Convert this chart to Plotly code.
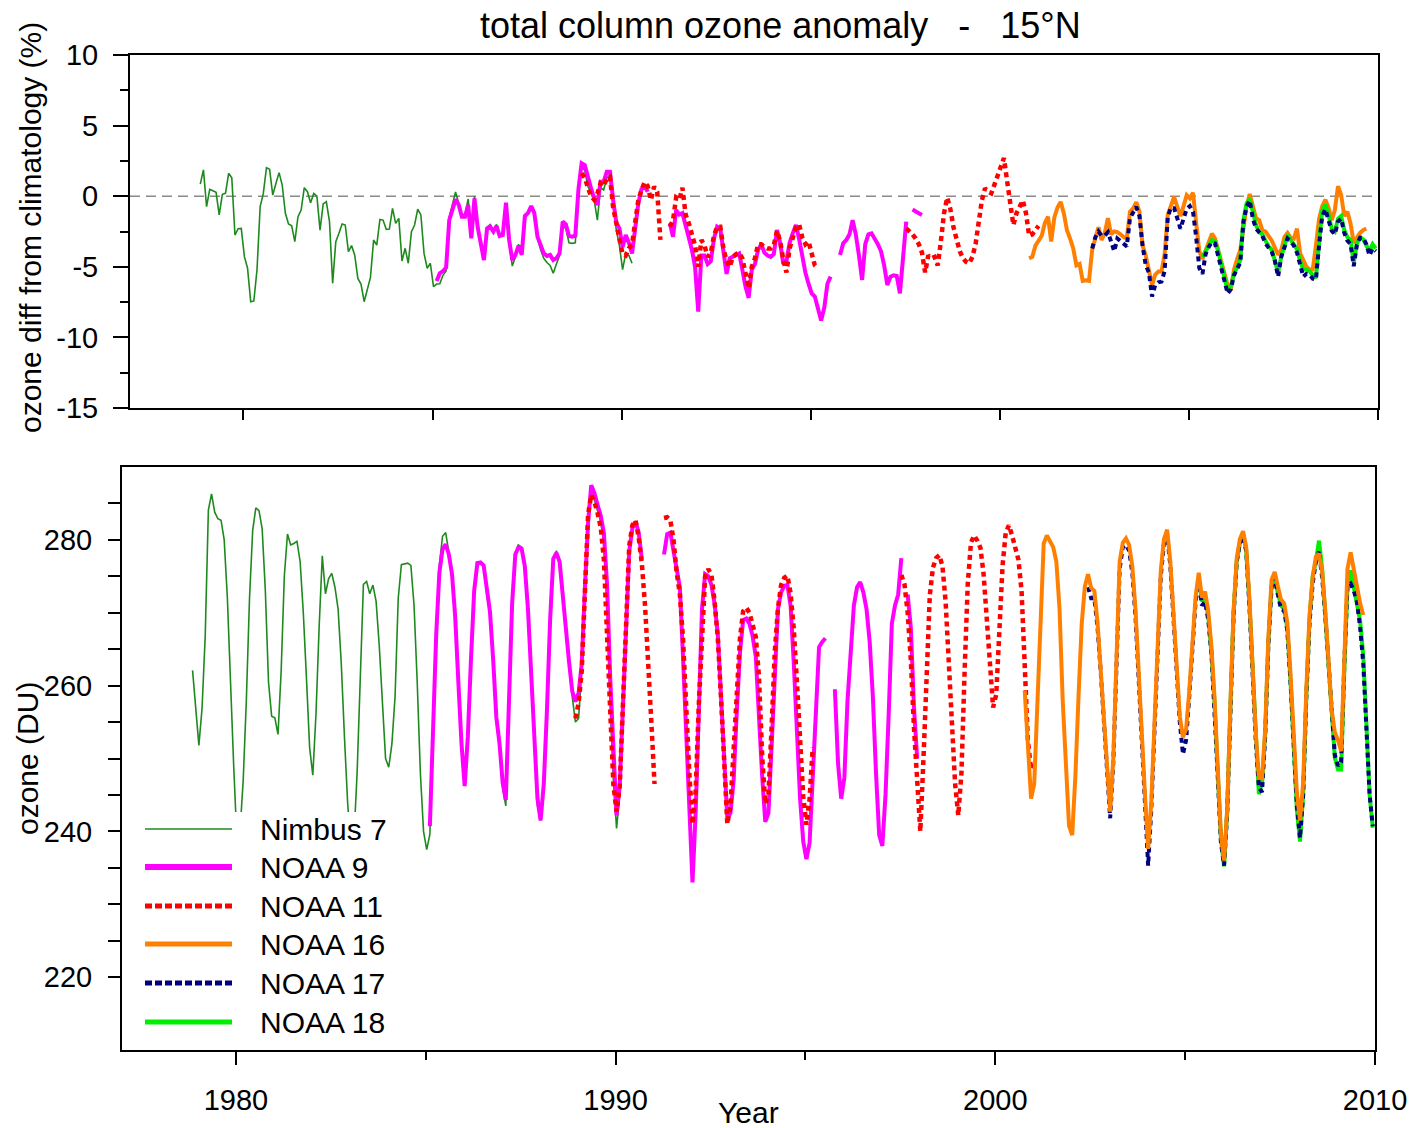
import plotly.graph_objects as go

W, H = 1410, 1128

# ---------------- data (monthly values) ----------------
# anomaly (%) and total ozone (DU); None = missing month
nimbus7_start = (1978, 11)
nimbus7_anom = [
    0.86, 1.86,
    -0.74, 0.49, 0.39, 0.28, -1.33, 0.13, 0.2, 1.62, 1.31, -2.75, -2.3, -2.28,
    -4.28, -5.1, -7.47, -7.42, -5.2, -0.74, 0.2, 2.02, 1.9, 0.08, 0.9, 1.67,
    0.79, -1.21, -1.97, -2.1, -3.22, -1.45, -0.98, 0.6, 0.32, -0.46, 0.2, 0.0,
    -2.4, -0.55, -0.39, -1.8, -6.17, -3.22, -2.63, -1.97, -2.04, -3.93, -3.5, -4.16,
    -5.82, -6.22, -7.47, -6.53, -5.75, -3.1, -3.46, -1.64, -1.69, -2.35, -2.33, -0.86,
    -1.92, -1.57, -4.59, -3.69, -4.75, -2.51, -2.04, -0.91, -1.33, -4.05, -5.1, -4.75,
    -6.4, -6.22, -6.2, -5.6, -5.3, -1.5, -0.6, 0.3, -0.5, -1.3, -1.3, -0.2,
    -2.8, 0.0, -2.0, -3.2, -4.4, -2.2, -2.0, -2.4, -2.0, -2.7, -2.6, -0.5,
    -3.2, -4.95, -4.3, -3.4, -4.1, -1.3, -1.1, -0.8, -1.3, -3.0, -3.8, -4.4,
    -4.7, -4.9, -5.46, -4.8, -4.2, -2.1, -2.3, -3.3, -3.34, -3.3, 0.2, 2.2,
    1.8, 0.7, 0.2, -0.3, -1.69, 0.6, 0.44, 1.3, 1.5, -0.6, -2.4, -3.5,
    -5.2, -4.05, -4.2, -4.75,
]
nimbus7_du = [
    262.1, 256.9,
    251.8, 256.9, 266.8, 284.1, 286.3, 283.8, 282.9, 282.7, 280, 272, 259, 249,
    239, 240, 247, 258, 272, 281.3, 284.4, 284, 281.5, 273, 260.5, 255.8,
    255.6, 253.3, 262, 275, 280.8, 279.3, 279.5, 279.8, 277, 270, 261, 251.5,
    247.7, 256, 268, 277.8, 272.6, 274.7, 275.4, 273.5, 270.5, 263, 253, 244,
    238, 239, 248, 261, 273.9, 274.3, 272.6, 273.8, 271.6, 265.5, 257.5, 250,
    248.8, 252, 258.5, 272, 276.6, 276.7, 276.8, 276.5, 271, 260.5, 248, 240,
    237.5, 239.6, 254, 267.5, 276.5, 280.5, 281, 278.5, 275.5, 269, 260, 251.5,
    247, 253.5, 264, 273.5, 277, 277, 276.5, 272.5, 270, 263, 255, 251.5,
    246, 243.5, 257, 271, 278, 279.3, 279, 276, 270, 261, 251.5, 243.5,
    241.5, 246.5, 256.5, 269, 277.5, 278.5, 277, 272, 268, 262.5, 258.5, 255,
    255.5, 262, 273.5, 282.5, 286, 285.5, 284, 282.5, 279.5, 271, 257, 247,
    240.4, 245, 256, 268,
]

noaa9_start = (1985, 2)
noaa9_anom = [
    -6.0, -5.46, -5.3, -5.06, -1.69, -1.0, -0.22, -0.6, -1.45, -1.45, -0.62,
    -2.98, -0.15, -2.16, -3.3, -4.52, -2.28, -2.16, -2.51, -2.1, -2.82, -2.75, -0.46,
    -3.1, -4.52, -4.16, -3.5, -4.16, -1.4, -1.2, -0.7, -1.2, -2.87, -3.57, -4.05,
    -4.23, -4.16, -4.52, -4.4, -4.05, -1.8, -1.99, -2.82, -2.87, -2.8, 0.5, 2.33,
    2.2, 1.3, 0.56, -0.15, -0.62, 1.03, 1.03, 1.74, 1.74, -0.27, -1.87, -2.28,
    -3.6, -2.75, -3.3, -4.05, -2.28, -0.5, 0.5, 0.68, 0.32, None, None, None,
    None, None, None, -1.92, -2.87, -0.98, -1.3, -1.2, -2.0, -3.0, -3.8, -5.0,
    -8.18, -4.2, -4.2, -4.8, -4.6, -3.0, -2.16, -2.3, -4.0, -5.5, -4.4, -4.3,
    -4.2, -4.05, -5.2, -6.4, -7.2, -5.2, -4.8, -3.8, -3.4, -4.0, -4.2, -4.3,
    -4.1, -2.4, -3.3, -4.8, -4.6, -3.3, -2.63, -2.04, -3.0, -4.2, -5.4, -6.2,
    -6.88, -7.1, -7.9, -8.8, -7.9, -6.2, -5.7, None, None, -4.16, -3.34, -3.1,
    -2.7, -1.69, -2.7, -4.2, -5.93, -3.4, -2.7, -2.63, -3.0, -3.4, -3.9, -4.9,
    -6.29, -5.7, -5.6, -5.65, -6.88, -4.3, -1.8, None, -0.95, -1.05, -1.2, -1.33,
]
noaa9_du = [
    240.7, 253.5, 267, 275.5, 278.7, 279.4, 278, 275.3, 269.5, 260.5, 252,
    246.2, 253, 263.7, 273, 276.8, 276.9, 276.5, 273, 270.1, 263.6, 255.7, 252.1,
    246.7, 244.3, 257.4, 271.3, 278, 279, 278.8, 276.4, 270.5, 261.6, 252.2, 244.5,
    241.5, 246.5, 256.6, 269, 277.4, 278.2, 277, 272, 268.2, 263.2, 259.2, 257.8,
    259, 263, 273.4, 282.4, 287.5, 286.4, 284.8, 283.3, 280.9, 273.9, 261, 250,
    242.2, 246.2, 257.5, 269, 278.4, 281.6, 282.5, 281, 277.3, None, None, None,
    None, None, None, 278, 280.8, 281, 278.5, 275.8, 273.5, 264, 253.5, 243.8,
    233, 242.5, 256, 270.5, 275.3, 275, 273.8, 271.2, 267, 259, 249.5, 241.8,
    242.5, 247, 256.5, 264.5, 269, 269.2, 268.5, 266.8, 264, 255.2, 247.7, 241.3,
    242.5, 251.7, 261.7, 270.5, 272.8, 273.7, 273.8, 271, 263.2, 253.3, 244.5, 238.6,
    236.2, 238.4, 246.6, 256.8, 265.3, 266, 266.5, None, None, 259.5, 249.3, 244.5,
    247.4, 258, 264.5, 271, 273.5, 274.2, 272.8, 270.5, 266, 258.5, 248, 239.5,
    238, 245, 256, 268.5, 271, 272.5, 277.5, None, 272.5, 268, 257, 250,
]

noaa11a_start = (1988, 12)
noaa11a_anom = [
    1.62,
    1.3, 0.6, 0.0, -0.25, 0.2, 0.9, 0.7, 1.27, 1.38, -0.8, -2.0, -2.9,
    -4.1, -4.2, -3.7, -3.4, -2.0, -0.27, 0.44, 1.0, 0.7, -0.27, 0.68, 0.3,
    -3.1, None, None, -2.16, -1.7, -0.1, -0.27, 0.6, -1.3, -1.9, -2.6, -3.5,
    -5.0, -3.1, -3.5, -4.3, -4.0, -2.8, -2.16, -2.16, -3.7, -4.6, -5.0, -4.3,
    -4.1, -4.0, -4.4, -5.6, -6.52, -5.0, -4.4, -3.4, -3.4, -3.6, -3.7, -3.7,
    -3.45, -2.45, -3.2, -4.5, -5.4, -3.7, -2.8, -2.2, -2.0, -2.9, -3.4, -3.2,
    -4.05, -4.9, -5.1,
]
noaa11a_du = [
    255.5,
    257.6, 262, 275, 283.5, 286.2, 285.2, 283.7, 281.7, 277.3, 268.3, 256.5, 246.4,
    242.7, 246.2, 257, 269.8, 279.2, 282, 282.7, 280.3, 276.7, 271, 264, 255,
    246.5, None, None, 283, 283.1, 282.7, 280, 275.5, 272.6, 266.5, 256.5, 248,
    241, 245.5, 257.5, 268, 275, 276, 275.2, 271.5, 266.5, 258.5, 249.5, 241,
    243.5, 250.5, 259, 266.5, 270.2, 270.7, 270, 268.6, 266.7, 261.3, 250.5, 243.8,
    245, 254.3, 264.6, 270.6, 273.8, 274.8, 275.1, 272.7, 267.8, 260.6, 252, 244.8,
    240.9, 244.4, 251.5,
]

noaa11b_start = (1997, 7)
noaa11b_anom = [
    -2.28, -2.45, -2.7, -3.0, -3.4, -4.0,
    -5.4, -4.2, -4.4, -4.3, -4.9, -3.2, -1.2, -0.1, -0.9, -2.2, -3.1, -3.9,
    -4.4, -4.65, -4.75, -4.3, -3.4, -1.8, -0.3, 0.56, 0.32, 0.2, 0.8, 1.5,
    2.0, 2.7, 1.1, -0.7, -2.04, -1.2, -0.8, -0.3, -1.2, -2.8, -2.7, -2.4,
    -2.1,
]
noaa11b_du = [
    275.2, 273.9, 270, 263.5, 254.2, 247,
    240, 250, 263.5, 272.4, 276.2, 277.5, 277.9, 276.4, 271.5, 263, 253.5, 246.5,
    242.2, 248, 262, 274, 279.6, 280.6, 279.9, 278.9, 275.3, 269.3, 262.3, 257,
    258.8, 267.4, 276.5, 281, 282, 280.6, 278.8, 277.3, 273, 262.5, 252.5, 248.5,
    249.5,
]

noaa16_start = (2000, 10)
noaa16_anom = [
    -4.4, -4.3, -3.5,
    -3.1, -2.8, -1.9, -1.45, -3.2, -1.5, -0.8, -0.4, -1.2, -2.4, -3.0, -3.7,
    -4.9, -4.8, -6.0, -5.95, -6.0, -3.8, -3.0, -2.2, -3.1, -2.6, -1.55, -2.7,
    -2.5, -2.55, -2.7, -2.9, -3.0, -1.1, -0.87, -0.42, -1.1, -3.5, -4.2, -5.2,
    -6.3, -5.56, -5.34, -5.34, -4.1, -1.3, -0.6, -0.05, -0.74, -1.42, -0.7, 0.08,
    -0.15, 0.25, -1.9, -3.9, -4.45, -3.8, -3.1, -2.65, -3.0, -3.8, -4.6, -5.5,
    -6.3, -6.6, -5.2, -4.45, -3.8, -2.3, -0.7, 0.15, -0.8, -1.57, -1.69, -2.4,
    -2.5, -2.85, -3.15, -3.65, -4.15, -3.8, -2.9, -2.6, -2.95, -3.0, -2.3, -4.05,
    -4.52, -5.0, -5.2, -5.2, -3.5, -1.6, -0.7, -0.25, -0.8, -1.7, -1.0, 0.7,
    0.1, -1.4, -1.1, -1.95, -3.3, -2.9, -2.6, -2.4, -2.28,
]
noaa16_du = [
    259.3, 252.5, 244.5,
    246.5, 256.5, 268.5, 279.5, 280.6, 279.7, 279, 277, 270.5, 258, 248.5, 240.8,
    239.5, 247.5, 258.5, 268.4, 273.6, 275.3, 273.4, 273, 268.7, 262.6, 256.4, 249.6,
    242.7, 250.1, 264.5, 277, 279.6, 280.2, 279.3, 276.4, 270.5, 261.3, 252.2, 245,
    237.6, 244, 254.7, 267, 275.8, 280.1, 281.4, 277.1, 270.3, 261.8, 255.8, 252.9,
    254, 259.2, 265.4, 272.2, 275.5, 272.1, 272.9, 270.2, 265.4, 258.2, 248.7, 239.5,
    236, 243.2, 257.3, 270.2, 277.5, 280.1, 281.2, 279, 272, 262.6, 253.5, 247.4,
    247.3, 254, 266.5, 274.5, 275.6, 273.6, 271.8, 271.3, 268.6, 261.6, 253.4, 245.3,
    241.5, 246.7, 259.5, 269.6, 274.8, 277.7, 278.1, 275.6, 270.3, 263.2, 256.7, 253.6,
    252.5, 251, 264.8, 276, 278.3, 275.7, 273.2, 271.3, 269.7,
]

noaa17_start = (2002, 6)
noaa17_anom = [
    -3.7, -2.9, -2.5, -2.8, -2.8, -2.55, -3.2,
    -3.9, -3.0, -3.15, -3.37, -3.55, -1.57, -1.15, -0.75, -1.4, -3.5, -4.9, -5.4,
    -7.1, -6.3, -6.1, -6.05, -5.3, -1.45, -0.8, -0.85, -1.55, -2.3, -1.6, -0.9,
    -0.7, -1.1, -2.9, -5.1, -5.5, -4.1, -3.6, -3.25, -3.35, -4.3, -5.3, -6.0,
    -6.9, -6.6, -5.6, -5.15, -4.7, -1.8, -0.74, -0.3, -1.6, -2.3, -2.6, -2.8,
    -3.35, -3.7, -3.95, -4.6, -5.7, -4.3, -3.65, -3.0, -3.2, -3.5, -4.0, -4.9,
    -5.7, -5.5, -5.55, -5.85, -5.9, -3.5, -1.4, -0.93, -1.6, -2.45, -2.7, -1.8,
    -1.6, -2.6, -3.15, -3.4, -4.95, -3.45, -2.95, -2.95, -3.4, -4.2, -3.7, -3.9,
]
noaa17_du = [
    273.5, 272, 272, 268, 262, 255.5, 248.5,
    241.8, 249.5, 263.5, 276, 279, 279.3, 278.5, 275.5, 269.5, 260.5, 251, 243.5,
    235.3, 243, 254, 266.5, 275, 279.5, 280.7, 276.5, 269.5, 261, 255, 250.6,
    252.5, 258.5, 264.5, 271.5, 274.5, 271, 271.5, 269, 264.5, 257, 247.5, 238.5,
    235.3, 242.5, 256.5, 269.5, 277, 279.6, 280.5, 278.5, 271, 261.5, 252.5, 246,
    245.4, 253, 265.5, 273.5, 274.8, 272.5, 270.5, 270.3, 267.5, 260.5, 252, 243.5,
    239.1, 245, 258.5, 268.5, 274, 277, 278.4, 274.8, 269.5, 262.5, 255.5, 250.5,
    249, 249.5, 263, 273.7, 274, 273, 271.5, 268, 263, 254, 245, 240.7,
]

noaa18_start = (2005, 5)
noaa18_anom = [
    -4.3, -3.9, -3.5, -3.1, -3.2, -3.9, -4.85, -5.8,
    -6.7, -6.4, -5.5, -5.05, -4.5, -1.7, -0.5, -0.2, -1.3, -2.05, -2.55, -2.7,
    -3.15, -3.55, -3.8, -4.5, -5.4, -4.3, -3.45, -2.75, -3.1, -3.4, -3.75, -4.6,
    -5.2, -5.2, -5.3, -5.6, -5.8, -3.3, -1.0, -0.6, -1.3, -2.3, -2.5, -1.6,
    -1.4, -2.4, -2.9, -3.1, -4.7, -3.35, -2.9, -3.05, -3.45, -3.9, -3.4, -3.7,
]
noaa18_du = [
    274.5, 271.6, 272, 269.5, 264.5, 257.5, 248, 239,
    235.2, 243, 257, 270, 277, 279.5, 280.8, 278.5, 271.5, 262, 252.5, 245.1,
    246.5, 253.5, 266, 273.5, 274.5, 272.8, 271, 270.5, 267.8, 260.5, 252, 243,
    238.6, 245, 258.5, 269, 275, 277, 279.9, 276, 269.5, 262.5, 255, 250.1,
    248.5, 248.5, 262, 273.5, 275.8, 273.5, 270.5, 268.9, 264, 255, 245, 240.5,
]

x_major_ticks = [1980, 1990, 2000, 2010]
x_minor_ticks = [1985, 1995, 2005]
top_y_ticks = [-15, -10, -5, 0, 5, 10]
bottom_y_ticks = [220, 240, 260, 280]

legend_names = ["Nimbus 7", "NOAA 9", "NOAA 11", "NOAA 16", "NOAA 17", "NOAA 18"]

# ---------------- styles ----------------
styles = {
    "Nimbus 7": dict(color="#1E8A1E", width=1.6, dash="solid"),
    "NOAA 9": dict(color="#FF00FF", width=4, dash="solid"),
    "NOAA 11": dict(color="#FF0000", width=4.5, dash="5px,4px"),
    "NOAA 16": dict(color="#FF8000", width=4, dash="solid"),
    "NOAA 17": dict(color="#000080", width=4, dash="5px,4px"),
    "NOAA 18": dict(color="#00EE00", width=4, dash="solid"),
}
legend_styles = {
    "Nimbus 7": dict(color="#1E8A1E", width=1.6, dash="solid"),
    "NOAA 9": dict(color="#FF00FF", width=6, dash="solid"),
    "NOAA 11": dict(color="#FF0000", width=5, dash="7px,3px"),
    "NOAA 16": dict(color="#FF8000", width=5, dash="solid"),
    "NOAA 17": dict(color="#000080", width=5, dash="7px,3px"),
    "NOAA 18": dict(color="#00EE00", width=5, dash="solid"),
}


def month_axis(start, n):
    y0, m0 = start
    base = y0 + (m0 - 0.7) / 12.0
    return [base + i / 12.0 for i in range(n)]


series = {
    "Nimbus 7": [(nimbus7_start, nimbus7_anom, nimbus7_du)],
    "NOAA 9": [(noaa9_start, noaa9_anom, noaa9_du)],
    "NOAA 11": [(noaa11a_start, noaa11a_anom, noaa11a_du),
                (noaa11b_start, noaa11b_anom, noaa11b_du)],
    "NOAA 16": [(noaa16_start, noaa16_anom, noaa16_du)],
    "NOAA 17": [(noaa17_start, noaa17_anom, noaa17_du)],
    "NOAA 18": [(noaa18_start, noaa18_anom, noaa18_du)],
}

top_order = ["Nimbus 7", "NOAA 9", "NOAA 11", "NOAA 16", "NOAA 18", "NOAA 17"]
bottom_order = ["Nimbus 7", "NOAA 9", "NOAA 11", "NOAA 18", "NOAA 17", "NOAA 16"]

fig = go.Figure()

for name in top_order:
    for start, anom, du in series[name]:
        fig.add_trace(go.Scatter(
            x=month_axis(start, len(anom)), y=anom, mode="lines", name=name,
            line=styles[name], xaxis="x", yaxis="y", showlegend=False,
            connectgaps=False, hoverinfo="skip"))

for name in bottom_order:
    for start, anom, du in series[name]:
        fig.add_trace(go.Scatter(
            x=month_axis(start, len(du)), y=du, mode="lines", name=name,
            line=styles[name], xaxis="x2", yaxis="y2", showlegend=False,
            connectgaps=False, hoverinfo="skip"))

FONT = "Liberation Sans, Arial, sans-serif"
TICKFONT = dict(family=FONT, size=29, color="black")

axis_common = dict(showline=True, mirror=True, linecolor="black", linewidth=2,
                   showgrid=False, zeroline=False, ticks="outside",
                   tickcolor="black", tickwidth=1.5, automargin=False)

fig.update_layout(
    template="none",
    width=W, height=H, autosize=False, margin=dict(l=0, r=0, t=0, b=0, pad=0),
    paper_bgcolor="white", plot_bgcolor="white", showlegend=False,
    font=dict(family=FONT, color="black"),
    xaxis=dict(domain=[130 / W, 1378 / W], range=[1977, 2010], anchor="y",
               tickmode="array", tickvals=x_major_ticks + x_minor_ticks,
               showticklabels=False, ticklen=10, **axis_common),
    yaxis=dict(domain=[1 - 408 / H, 1 - 55 / H], range=[-15, 10], anchor="x",
               tickmode="array", tickvals=top_y_ticks,
               ticktext=[str(v) for v in top_y_ticks],
               ticklen=15, tickfont=TICKFONT, ticklabelstandoff=9,
               minor=dict(tickmode="array",
                          tickvals=[-12.5, -7.5, -2.5, 2.5, 7.5],
                          ticks="outside", ticklen=8, tickcolor="black",
                          tickwidth=1.5),
               **axis_common),
    xaxis2=dict(domain=[122 / W, 1375 / W], range=[1977, 2010], anchor="y2",
                tickmode="array", tickvals=x_major_ticks,
                ticktext=[str(v) for v in x_major_ticks],
                ticklen=13, tickfont=TICKFONT, ticklabelstandoff=10,
                minor=dict(tickmode="array", tickvals=x_minor_ticks,
                           ticks="outside", ticklen=8, tickcolor="black",
                           tickwidth=1.5),
                **axis_common),
    yaxis2=dict(domain=[1 - 1050 / H, 1 - 467 / H], range=[210, 290], anchor="x2",
                tickmode="array", tickvals=bottom_y_ticks,
                ticktext=[str(v) for v in bottom_y_ticks],
                ticklen=12, tickfont=TICKFONT, ticklabelstandoff=10,
                minor=dict(tickmode="array",
                           tickvals=[225, 230, 235, 245, 250, 255, 265, 270, 275, 285],
                           ticks="outside", ticklen=12, tickcolor="black",
                           tickwidth=1.5),
                **axis_common),
)

shapes = []
# zero reference line in top panel
shapes.append(dict(type="line", xref="x", yref="y", x0=1977, x1=2010, y0=0, y1=0,
                   line=dict(color="#8A8A8A", width=1.5, dash="10px,6px"),
                   layer="below"))
# legend background box
shapes.append(dict(type="rect", xref="paper", yref="paper",
                   x0=136 / W, x1=400 / W, y0=1 - 1045 / H, y1=1 - 812 / H,
                   fillcolor="white", line=dict(width=0), layer="above"))
rows = [829, 867, 906, 944, 983, 1022]
annotations = []
for name, ry in zip(legend_names, rows):
    shapes.append(dict(type="line", xref="paper", yref="paper",
                       x0=145 / W, x1=232 / W, y0=1 - ry / H, y1=1 - ry / H,
                       line=legend_styles[name], layer="above"))
    annotations.append(dict(xref="paper", yref="paper", x=258 / W, y=1 - ry / H,
                            text=name, showarrow=False, xanchor="left",
                            yanchor="middle",
                            font=dict(family=FONT, size=30, color="black")))

annotations.append(dict(xref="paper", yref="paper", x=780 / W, y=1 - 25 / H,
                        text="total column ozone anomaly\u00a0\u00a0\u00a0-\u00a0\u00a0\u00a015\u00b0N",
                        showarrow=False, xanchor="center", yanchor="middle",
                        font=dict(family=FONT, size=36, color="black")))
annotations.append(dict(xref="paper", yref="paper", x=30 / W, y=1 - 228 / H,
                        text="ozone diff from climatology (%)", textangle=-90,
                        showarrow=False, xanchor="center", yanchor="middle",
                        font=dict(family=FONT, size=30, color="black")))
annotations.append(dict(xref="paper", yref="paper", x=27 / W, y=1 - 759 / H,
                        text="ozone (DU)", textangle=-90,
                        showarrow=False, xanchor="center", yanchor="middle",
                        font=dict(family=FONT, size=30, color="black")))
annotations.append(dict(xref="paper", yref="paper", x=748 / W, y=1 - 1112 / H,
                        text="Year", showarrow=False, xanchor="center",
                        yanchor="middle",
                        font=dict(family=FONT, size=30, color="black")))

fig.update_layout(shapes=shapes, annotations=annotations)
fig.write_html("out.html")
